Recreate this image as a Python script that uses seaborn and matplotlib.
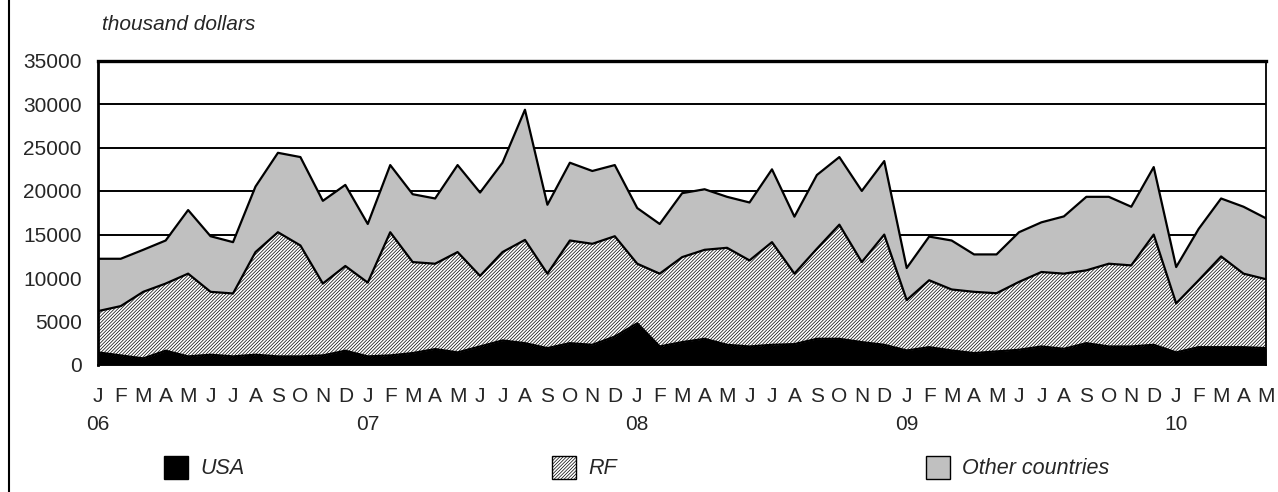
import numpy as np
import pandas as pd
import matplotlib
matplotlib.use("Agg")
import matplotlib.pyplot as plt
import seaborn as sns
from matplotlib.patches import Rectangle
from matplotlib.lines import Line2D

# monthly exports, thousand dollars, Jan 2006 - May 2010
month_labels = ["J", "F", "M", "A", "M", "J", "J", "A", "S", "O", "N", "D"] * 4 + ["J", "F", "M", "A", "M"]
year_labels = ["06", "07", "08", "09", "10"]

usa = [1450, 1100, 760, 1640, 990, 1180, 990, 1180, 990, 990, 1100, 1640,
       990, 1100, 1370, 1830, 1450, 2130, 2820, 2510, 1940, 2510, 2320, 3270,
       4790, 2130, 2630, 3010, 2320, 2130, 2320, 2400, 3010, 3010, 2630, 2320,
       1670, 2050, 1670, 1370, 1560, 1750, 2130, 1860, 2510, 2130, 2130, 2320,
       1450, 2050, 2050, 2050, 1940]
rf = [4750, 5670, 7650, 7720, 9510, 7230, 7230, 11800, 14270, 12750, 8260, 9740,
      8480, 14160, 10460, 9810, 11530, 8110, 10160, 11870, 8560, 11800, 11610, 11530,
      6850, 8370, 9770, 10230, 11150, 9890, 11800, 8100, 10350, 13120, 9200, 12670,
      5790, 7690, 7010, 7040, 6690, 7800, 8560, 8640, 8370, 9510, 9320, 12670,
      5630, 7690, 10430, 8450, 7920]
other = [6010, 5440, 4830, 4950, 7310, 6390, 5900, 7530, 9130, 10160, 9510, 9320,
         6740, 7720, 7800, 7500, 10000, 9580, 10270, 14960, 7920, 8940, 8370, 8180,
         6400, 5710, 7350, 6960, 5860, 6660, 8370, 6550, 8480, 7770, 8180, 8450,
         3690, 5020, 5630, 4300, 4460, 5710, 5710, 6580, 8450, 7690, 6740, 7760,
         4180, 5900, 6660, 7690, 7000]

W, H = 1278, 492
FS = 15
HATCH = "/" * 10


def main():
    sns.set_style("white")
    plt.rcParams["font.family"] = ["Liberation Sans", "DejaVu Sans"]
    plt.rcParams["hatch.linewidth"] = 0.5

    df = pd.DataFrame({"idx": np.arange(len(usa)), "USA": usa, "RF": rf, "Other": other})
    df["top_usa"] = df["USA"]
    df["top_rf"] = df["USA"] + df["RF"]
    df["top_all"] = df["top_rf"] + df["Other"]

    fig = plt.figure(figsize=(W / 100, H / 100), dpi=100)
    ax = fig.add_axes([98.3 / W, 1 - 365 / H, (1266 - 98.3) / W, (365 - 60.5) / H])

    x = df["idx"]
    ax.fill_between(x, 0, df["top_usa"], facecolor="black", linewidth=0, zorder=3)
    ax.fill_between(x, df["top_usa"], df["top_rf"], facecolor="white", edgecolor="black",
                    hatch=HATCH, linewidth=0, zorder=3)
    ax.fill_between(x, df["top_rf"], df["top_all"], facecolor="#c0c0c0", linewidth=0, zorder=3)

    for col in ["top_usa", "top_rf", "top_all"]:
        sns.lineplot(data=df, x="idx", y=col, color="black", linewidth=1.6, ax=ax, zorder=4)

    ax.set_xlim(0, len(usa) - 1)
    ax.set_ylim(0, 35000)
    ax.set_yticks(range(0, 35001, 5000))
    for v in range(5000, 35001, 5000):
        ax.axhline(v, color="black", linewidth=1.4, zorder=1)

    labels = []
    for i, m in enumerate(month_labels):
        if i % 12 == 0:
            labels.append(m + "\n" + year_labels[i // 12])
        else:
            labels.append(m)
    ax.set_xticks(range(len(month_labels)))
    ax.set_xticklabels(labels, fontsize=FS, linespacing=1.6)
    ax.tick_params(axis="x", direction="out", length=4, width=1.2, pad=12, color="black")
    ax.tick_params(axis="y", direction="out", length=4, width=1.2, pad=8, labelsize=FS, color="black")
    ax.set_xlabel("")
    ax.set_ylabel("")

    for side in ["left", "right", "top", "bottom"]:
        ax.spines[side].set_visible(True)
        ax.spines[side].set_color("black")
        ax.spines[side].set_zorder(5)
    ax.spines["left"].set_linewidth(2)
    ax.spines["top"].set_linewidth(2.4)
    ax.spines["right"].set_linewidth(1.3)
    ax.spines["bottom"].set_linewidth(1.3)

    fig.text(102 / W, 1 - 25 / H, "thousand dollars", fontsize=FS, style="italic",
             ha="left", va="center")

    # frame line at left edge of the figure
    fig.add_artist(Line2D([8.5 / W, 8.5 / W], [0, 1], transform=fig.transFigure,
                          color="black", linewidth=1.5))

    # legend
    entries = [("USA", dict(facecolor="black"), 164),
               ("RF", dict(facecolor="white", hatch=HATCH), 552),
               ("Other countries", dict(facecolor="#c0c0c0"), 926)]
    for name, style, px in entries:
        fig.add_artist(Rectangle((px / W, 1 - 479 / H), 24 / W, 23 / H, transform=fig.transFigure,
                                 edgecolor="black", linewidth=1.0, **style))
        fig.text((px + 36) / W, 1 - 468 / H, name, fontsize=FS + 0.5, style="italic",
                 ha="left", va="center")

    fig.savefig("out.png", dpi=100)


if __name__ == "__main__":
    main()
